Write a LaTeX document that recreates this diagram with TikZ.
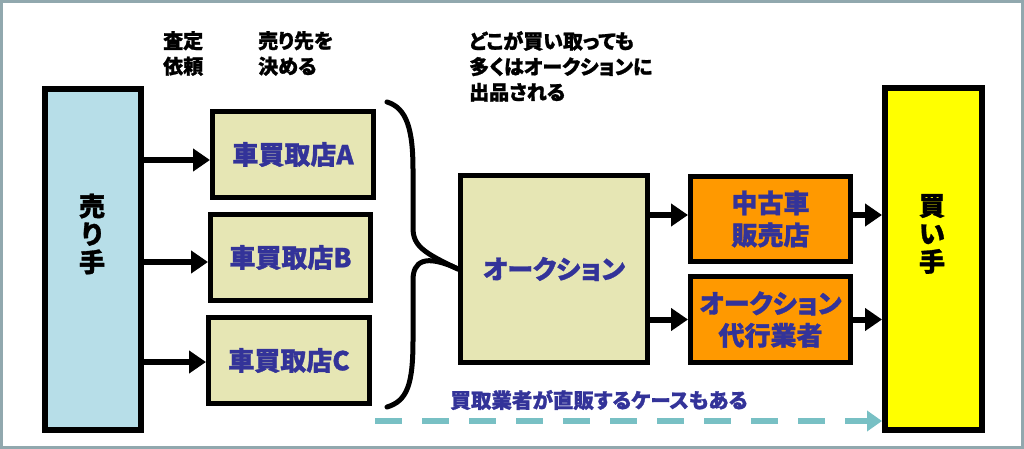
\documentclass[tikz,border=0pt]{standalone}
\usepackage{fontspec}
\setmainfont{Noto Sans CJK JP}[RawFeature=+palt,BoldFeatures={FakeBold=1.2}]
\usetikzlibrary{arrows.meta}
\definecolor{txtblue}{HTML}{333399}
\definecolor{sellerfill}{HTML}{B7DEE8}
\definecolor{beige}{RGB}{230,230,180}
\definecolor{orangefill}{HTML}{FF9900}
\definecolor{buyerfill}{HTML}{FFFF00}
\definecolor{teal}{RGB}{120,192,196}
\definecolor{framec}{RGB}{145,168,174}
\begin{document}
\begin{tikzpicture}[x=1pt,y=-1pt,
  box/.style={draw=black,line width=5pt,inner sep=0pt,align=center,
    font=\bfseries\fontsize{26}{32}\selectfont,text=txtblue},
  bigbox/.style={draw=black,line width=6pt,inner sep=0pt},
  arr/.style={line width=6pt,-{Triangle[length=17pt,width=22pt]}},
  dasharr/.style={draw=teal,line width=6pt,dash pattern=on 27pt off 20pt,
    -{Triangle[length=15pt,width=20pt,fill=teal]}},
  lab/.style={inner sep=0pt,align=left,anchor=north west,
    font=\bfseries\fontsize{20}{25.5}\selectfont},
  vlab/.style={inner sep=0pt,align=center,font=\bfseries\fontsize{26}{28}\selectfont},
]
\useasboundingbox (0,0) rectangle (1024,449);
\fill[white] (0,0) rectangle (1024,449);
\draw[line width=3pt,draw=framec] (1.5,1.5) rectangle (1022.5,447.5);

% main boxes
\node[bigbox,fill=sellerfill,minimum width=96pt,minimum height=341pt] (seller) at (93,259.5) {};
\node[vlab] (sellerlbl) at (92,234) {売\\り\\手};
\node[bigbox,fill=buyerfill,minimum width=97pt,minimum height=342pt] (buyer) at (933.5,259) {};
\node[vlab] (buyerlbl) at (932,234) {買\\い\\手};

\node[box,fill=beige,minimum width=161pt,minimum height=86pt] (A) at (293,154.5) {車買取店A};
\node[box,fill=beige,minimum width=160pt,minimum height=86pt] (B) at (290.5,257.5) {車買取店B};
\node[box,fill=beige,minimum width=161pt,minimum height=86pt] (C) at (289,360.5) {車買取店C};

\node[box,fill=beige,minimum width=187pt,minimum height=187pt] (auction) at (554,269) {オークション};

\node[box,fill=orangefill,minimum width=160pt,minimum height=85pt] (used) at (770.5,219) {中古車\\販売店};
\node[box,fill=orangefill,minimum width=160pt,minimum height=86pt] (agent) at (770.5,319.5) {オークション\\代行業者};

% labels
\node[lab] (l1) at (163,31) {査定\\依頼};
\node[lab] (l2) at (258,31) {売り先を\\決める};
\node[lab] (l3) at (469,31) {どこが買い取っても\\多くはオークションに\\出品される};
\node[inner sep=0pt,text=txtblue,font=\bfseries\fontsize{20.5}{24}\selectfont] (note) at (599,400) {買取業者が直販するケースもある};

% arrows
\draw[arr] ([yshift=-5.5pt]seller.east |- A.west) -- ([yshift=-5.5pt]A.west);
\draw[arr] ([yshift=-4.5pt]seller.east |- B.west) -- ([yshift=-4.5pt]B.west);
\draw[arr] ([yshift=-1.5pt]seller.east |- C.west) -- ([yshift=-1.5pt]C.west);
\draw[arr] ([yshift=4pt]auction.east |- used.west) -- ([yshift=4pt]used.west);
\draw[arr] (auction.east |- agent.west) -- (agent.west);
\draw[arr] ([yshift=4pt]used.east) -- ([yshift=4pt]used.east -| buyer.west);
\draw[arr] (agent.east) -- (agent.east -| buyer.west);

% dashed arrow
\coordinate (dstart) at (375,421);
\draw[dasharr] (dstart) -- (dstart -| buyer.west);

% brace
\draw[line width=5pt,line cap=round] (387,102)
  .. controls (407,108) and (413,130) .. (413,170)
  -- (413,228)
  .. controls (413,246) and (424,253) .. (auction.west);
\draw[line width=5pt,line cap=round] (auction.west)
  .. controls (424,253) and (413,262) .. (413,280)
  -- (413,340)
  .. controls (413,385) and (407,401) .. (387,407);
\end{tikzpicture}
\end{document}
